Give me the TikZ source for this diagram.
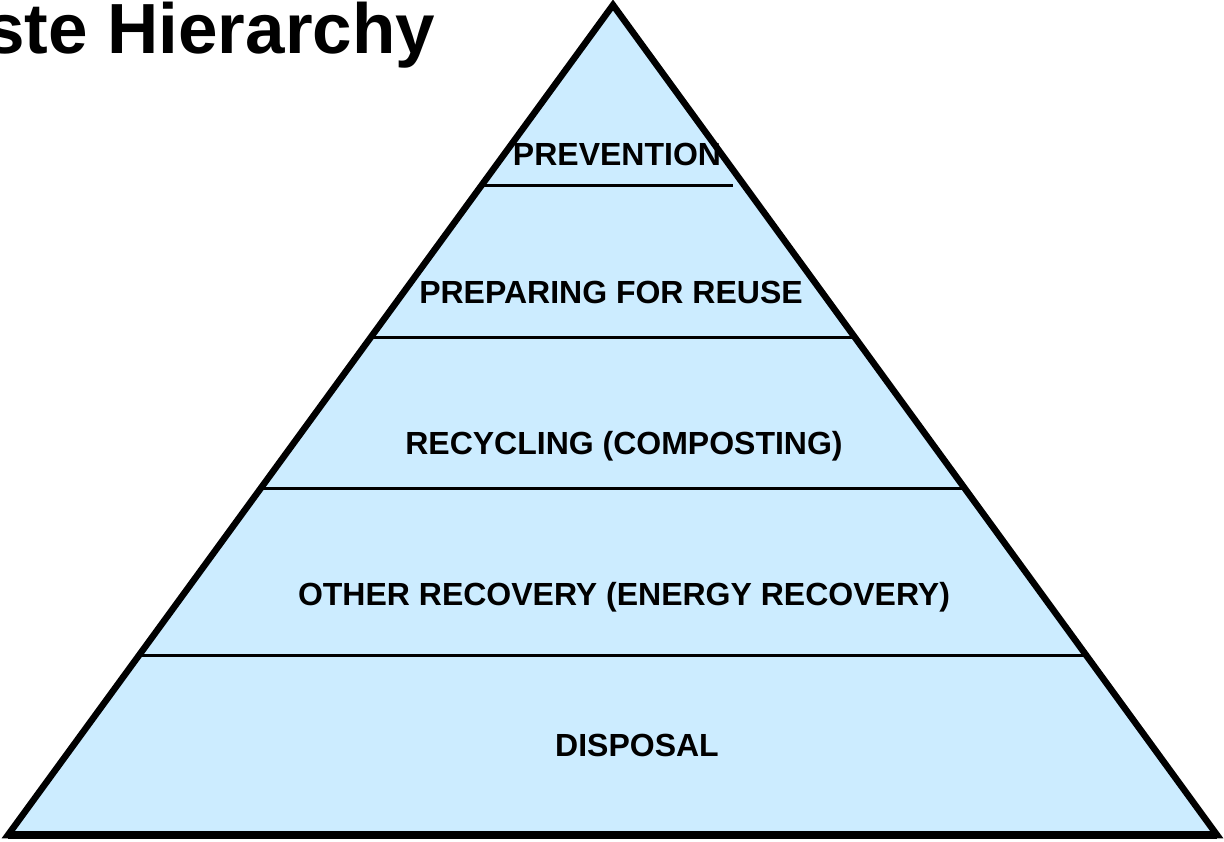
\documentclass[tikz,border=0pt]{standalone}
\usepackage{fontspec}
\setmainfont{Liberation Sans}
\definecolor{pyrfill}{RGB}{204,236,255}
\begin{document}
\begin{tikzpicture}[x=1pt,y=-1pt,
  label/.style={font=\fontsize{32}{38}\selectfont\bfseries, anchor=base, inner sep=0pt},
  divider/.style={line width=3pt, black},
  outline/.style={line width=6.5pt, black, line join=miter, fill=pyrfill}]
\useasboundingbox (0,0) rectangle (1224,841);
\coordinate (apex) at (613,5);
\coordinate (bl) at (8,835);
\coordinate (br) at (1217,835);
\draw[outline] (apex) -- (br) -- (bl) -- cycle;
\draw[line width=8pt, black] (bl) -- (br);
\coordinate (l1) at (484,185); \coordinate (r1) at (733,185);
\coordinate (l2) at (372,337); \coordinate (r2) at (853,337);
\coordinate (l3) at (262,488); \coordinate (r3) at (963,488);
\coordinate (l4) at (141,655); \coordinate (r4) at (1084,655);
\draw[divider] (l1) -- (r1);
\draw[divider] (l2) -- (r2);
\draw[divider] (l3) -- (r3);
\draw[divider] (l4) -- (r4);
\node[font=\fontsize{71}{80}\selectfont\bfseries, anchor=base west, inner sep=0pt] (title) at (-15,53) {ste Hierarchy};
\node[label] (prev) at (617,165) {PREVENTION};
\node[label] (reuse) at (611,303) {PREPARING FOR REUSE};
\node[label] (recy) at (624,454) {RECYCLING (COMPOSTING)};
\node[label] (other) at (624,605) {OTHER RECOVERY (ENERGY RECOVERY)};
\node[label] (disp) at (637,756) {DISPOSAL};
\end{tikzpicture}
\end{document}
